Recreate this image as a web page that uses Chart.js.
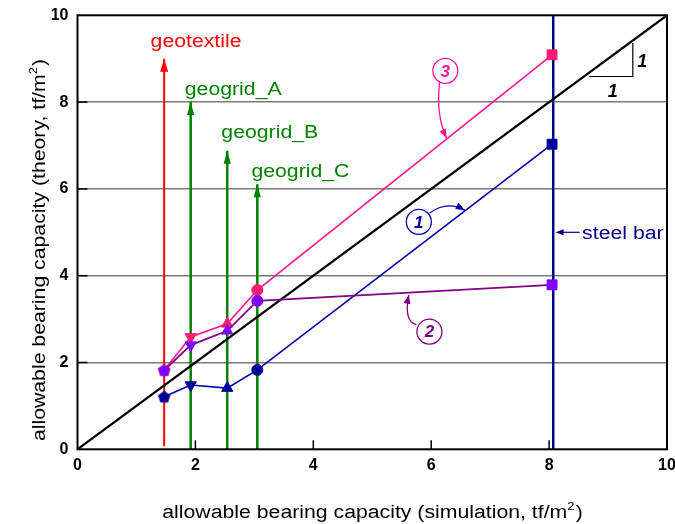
<!DOCTYPE html>
<html>
<head>
<meta charset="utf-8">
<title>allowable bearing capacity</title>
<script src="https://cdn.jsdelivr.net/npm/chart.js@4.4.1/dist/chart.umd.min.js"></script>
<style>
  html, body { margin: 0; padding: 0; background: #ffffff; }
  canvas { display: block; }
</style>
</head>
<body>
<canvas id="chart" width="675" height="524"></canvas>
<script>
// ---- data -------------------------------------------------------------
const reinforcements = ['geotextile', 'geogrid_A', 'geogrid_B', 'geogrid_C', 'steel bar'];
const reinforcementX = [1.47, 1.92, 2.54, 3.05, 8.07];   // simulation capacity of each reinforcement
const reinforcementBase = [0.07, 0, 0, 0, 0];
const reinforcementTop = [9.0, 8.0, 6.88, 6.11, 10];
const simulation = [1.47, 1.92, 2.54, 3.05, 8.05];        // x of the plotted points
const theory1 = [1.21, 1.48, 1.41, 1.83, 7.03];
const theory2 = [1.82, 2.40, 2.73, 3.42, 3.79];
const theory3 = [1.83, 2.59, 2.89, 3.67, 9.09];
const axisTicks = [0, 2, 4, 6, 8, 10];
const equalityLine = [0, 10];

// ---- styling ----------------------------------------------------------
const FONT = "'Liberation Sans', Arial, Helvetica, sans-serif";
const STRETCH = 1.18;
const RED = '#ff0000', GREEN = '#008000', NAVY = '#000088';
const PINK_LINE = '#ff1493', PINK_MARK = '#ff1a72';
const PURPLE_LINE = '#800080', PURPLE_MARK = '#8000ff';
const BLUE_LINE = '#0000a8', BLUE_MARK = '#000099';
const lineColors = [RED, GREEN, GREEN, GREEN, NAVY];

function pentagon(color, r) {
  const c = document.createElement('canvas');
  const s = Math.ceil(2 * r + 2);
  c.width = c.height = s;
  const g = c.getContext('2d');
  g.fillStyle = color;
  g.beginPath();
  for (let i = 0; i < 5; i++) {
    const a = -Math.PI / 2 + i * 2 * Math.PI / 5;
    g.lineTo(s / 2 + r * Math.cos(a), s / 2 + r * Math.sin(a) + 0.6);
  }
  g.closePath();
  g.fill();
  return c;
}

function seriesDataset(values, lineColor, markColor, lineWidth) {
  return {
    data: simulation.map((x, i) => ({ x, y: values[i] })),
    borderColor: lineColor,
    borderWidth: lineWidth,
    backgroundColor: markColor,
    pointBackgroundColor: markColor,
    pointBorderColor: markColor,
    pointBorderWidth: 1,
    pointStyle: [pentagon(markColor, 6.5), 'triangle', 'triangle', 'circle', 'rect'],
    pointRotation: [0, 180, 0, 0, 0],
    pointRadius: [6.5, 6.5, 6.5, 5.5, 7],
    showLine: true,
    tension: 0,
    clip: false
  };
}

const reinforcementSets = reinforcements.map((name, i) => ({
  label: name,
  data: [{ x: reinforcementX[i], y: reinforcementBase[i] }, { x: reinforcementX[i], y: reinforcementTop[i] }],
  borderColor: lineColors[i],
  borderWidth: i === 0 ? 2 : 2.5,
  pointRadius: 0,
  showLine: true,
  clip: false
})).reverse();

const datasets = [
  seriesDataset(theory2, PURPLE_LINE, PURPLE_MARK, 1.8),
  seriesDataset(theory3, PINK_LINE, PINK_MARK, 1.6),
  seriesDataset(theory1, BLUE_LINE, BLUE_MARK, 1.6),
  {
    data: equalityLine.map(v => ({ x: v, y: v })),
    borderColor: '#000000',
    borderWidth: 2.2,
    pointRadius: 0,
    showLine: true
  },
  ...reinforcementSets
];

// ---- annotation geometry (data units) ---------------------------------
const callouts = [
  { label: '1', color: BLUE_LINE, c: [5.79, 5.24], from: [5.97, 5.44], ctrl: [6.26, 5.74], to: [6.57, 5.51] },
  { label: '2', color: PURPLE_LINE, c: [5.97, 2.71], from: [5.75, 2.87], ctrl: [5.53, 2.95], to: [5.62, 3.56] },
  { label: '3', color: PINK_LINE, c: [6.24, 8.72], from: [6.14, 8.44], ctrl: [6.08, 7.70], to: [6.26, 7.17] }
];
const labelAnchors = [[1.24, 9.28], [1.82, 8.16], [2.44, 7.17], [2.95, 6.28]];

// ---- drawing helpers --------------------------------------------------
function toPx(chart, p) {
  return [chart.scales.x.getPixelForValue(p[0]), chart.scales.y.getPixelForValue(p[1])];
}

function arrowHead(ctx, tip, from, len, half, color) {
  const a = Math.atan2(tip[1] - from[1], tip[0] - from[0]);
  ctx.save();
  ctx.translate(tip[0], tip[1]);
  ctx.rotate(a);
  ctx.fillStyle = color;
  ctx.beginPath();
  ctx.moveTo(0, 0);
  ctx.lineTo(-len, -half);
  ctx.lineTo(-len, half);
  ctx.closePath();
  ctx.fill();
  ctx.restore();
}

function wideText(ctx, str, x, y, align) {
  ctx.save();
  ctx.translate(x, y);
  ctx.scale(STRETCH, 1);
  ctx.textAlign = align || 'left';
  ctx.fillText(str, 0, 0);
  ctx.restore();
}

// title with a superscript "2", centred on (0,0) of the current transform
function titleWithSup(ctx, main, sup, tail) {
  ctx.font = '18px ' + FONT;
  const wMain = ctx.measureText(main).width;
  const wTail = ctx.measureText(tail).width;
  ctx.font = '11px ' + FONT;
  const wSup = ctx.measureText(sup).width;
  const total = (wMain + wSup + wTail + 1) * STRETCH;
  let x = -total / 2;
  ctx.textBaseline = 'alphabetic';
  ctx.font = '18px ' + FONT;
  wideText(ctx, main, x, 0);
  x += wMain * STRETCH;
  ctx.font = '11px ' + FONT;
  wideText(ctx, sup, x, -8);
  x += (wSup + 1) * STRETCH;
  ctx.font = '18px ' + FONT;
  wideText(ctx, tail, x, 0);
}

const decorations = {
  id: 'decorations',
  afterDatasetsDraw(chart) {
    const ctx = chart.ctx;
    const area = chart.chartArea;
    const xs = chart.scales.x, ys = chart.scales.y;

    // frame
    ctx.save();
    ctx.strokeStyle = '#000';
    ctx.lineWidth = 2;
    ctx.strokeRect(area.left, area.top, area.right - area.left, area.bottom - area.top);

    // inward tick marks
    ctx.lineWidth = 1.5;
    axisTicks.filter(v => v > 0 && v < 10).forEach(v => {
      const px = xs.getPixelForValue(v);
      ctx.beginPath(); ctx.moveTo(px, area.bottom); ctx.lineTo(px, area.bottom - 9); ctx.stroke();
      const py = ys.getPixelForValue(v);
      ctx.beginPath(); ctx.moveTo(area.left, py); ctx.lineTo(area.left + 10, py); ctx.stroke();
    });

    // arrowheads on the reinforcement lines
    reinforcements.forEach((name, i) => {
      if (reinforcementTop[i] >= 10) return;
      const tip = toPx(chart, [reinforcementX[i], reinforcementTop[i]]);
      arrowHead(ctx, tip, [tip[0], tip[1] + 10], 13, i === 0 ? 4 : 3.6, lineColors[i]);
    });

    // reinforcement names
    ctx.font = '18px ' + FONT;
    ctx.textBaseline = 'alphabetic';
    labelAnchors.forEach((p, i) => {
      const q = toPx(chart, p);
      ctx.fillStyle = lineColors[i];
      wideText(ctx, reinforcements[i], q[0], q[1]);
    });

    // steel bar pointer
    const sb0 = toPx(chart, [8.52, 5.0]);
    const sb1 = toPx(chart, [reinforcementX[4] + 0.04, 5.0]);
    ctx.strokeStyle = NAVY;
    ctx.lineWidth = 1.2;
    ctx.beginPath(); ctx.moveTo(sb0[0], sb0[1]); ctx.lineTo(sb1[0] + 6, sb1[1]); ctx.stroke();
    arrowHead(ctx, sb1, sb0, 8, 3, NAVY);
    ctx.fillStyle = NAVY;
    const sbt = toPx(chart, [8.56, 4.85]);
    wideText(ctx, reinforcements[4], sbt[0], sbt[1]);

    // 1:1 slope marker
    const s0 = toPx(chart, [8.68, 8.59]);
    const s1 = toPx(chart, [9.42, 8.59]);
    const s2 = toPx(chart, [9.42, 9.36]);
    ctx.strokeStyle = '#000';
    ctx.lineWidth = 1.2;
    ctx.beginPath(); ctx.moveTo(s0[0], s0[1]); ctx.lineTo(s1[0], s1[1]); ctx.lineTo(s2[0], s2[1]); ctx.stroke();
    ctx.fillStyle = '#000';
    ctx.font = 'italic bold 18px ' + FONT;
    ctx.textBaseline = 'middle';
    ctx.textAlign = 'center';
    const l1 = toPx(chart, [9.58, 8.92]);
    const l2 = toPx(chart, [9.08, 8.24]);
    ctx.fillText('1', l1[0], l1[1]);
    ctx.fillText('1', l2[0], l2[1]);

    // numbered callouts
    callouts.forEach(c => {
      const cc = toPx(chart, c.c), f = toPx(chart, c.from), k = toPx(chart, c.ctrl), t = toPx(chart, c.to);
      ctx.strokeStyle = c.color;
      ctx.lineWidth = 1.3;
      ctx.beginPath(); ctx.arc(cc[0], cc[1], 12.5, 0, Math.PI * 2); ctx.stroke();
      ctx.beginPath(); ctx.moveTo(f[0], f[1]); ctx.quadraticCurveTo(k[0], k[1], t[0], t[1]); ctx.stroke();
      arrowHead(ctx, t, k, 9, 3.5, c.color);
      ctx.fillStyle = c.color;
      ctx.font = 'italic bold 17px ' + FONT;
      ctx.textAlign = 'center';
      ctx.textBaseline = 'middle';
      ctx.fillText(c.label, cc[0], cc[1] + 1);
    });

    // axis titles
    ctx.fillStyle = '#000';
    ctx.save();
    ctx.translate(372.5, 518);
    titleWithSup(ctx, 'allowable bearing capacity (simulation, tf/m', '2', ')');
    ctx.restore();
    ctx.save();
    ctx.translate(45, 250);
    ctx.rotate(-Math.PI / 2);
    titleWithSup(ctx, 'allowable bearing capacity (theory, tf/m', '2', ')');
    ctx.restore();

    ctx.restore();
  }
};

const tickFont = { family: FONT, size: 16, weight: 'bold' };

new Chart(document.getElementById('chart'), {
  type: 'scatter',
  data: { datasets },
  options: {
    responsive: false,
    animation: false,
    devicePixelRatio: 1,
    layout: { padding: { top: 15.3, right: 7.3, left: 0, bottom: 0 } },
    plugins: { legend: { display: false }, tooltip: { enabled: false } },
    elements: { line: { borderCapStyle: 'butt' } },
    scales: {
      x: {
        type: 'linear',
        min: 0,
        max: 10,
        afterBuildTicks: s => { s.ticks = axisTicks.map(v => ({ value: v })); },
        afterFit: s => { s.height = 74.7; s.paddingLeft = 0; s.paddingRight = 0; },
        grid: { display: false, drawTicks: false },
        border: { display: false },
        ticks: { color: '#000', font: tickFont, padding: 7, maxRotation: 0, autoSkip: false }
      },
      y: {
        type: 'linear',
        min: 0,
        max: 10,
        afterBuildTicks: s => { s.ticks = axisTicks.map(v => ({ value: v })); },
        afterFit: s => { s.width = 77.5; s.paddingTop = 0; s.paddingBottom = 0; },
        grid: {
          drawTicks: false,
          lineWidth: 1.5,
          color: c => (c.tick && c.tick.value > 0 && c.tick.value < 10) ? '#7a7a7a' : 'rgba(0,0,0,0)'
        },
        border: { display: false },
        ticks: { color: '#000', font: tickFont, padding: 9, autoSkip: false }
      }
    }
  },
  plugins: [decorations]
});
</script>
</body>
</html>
